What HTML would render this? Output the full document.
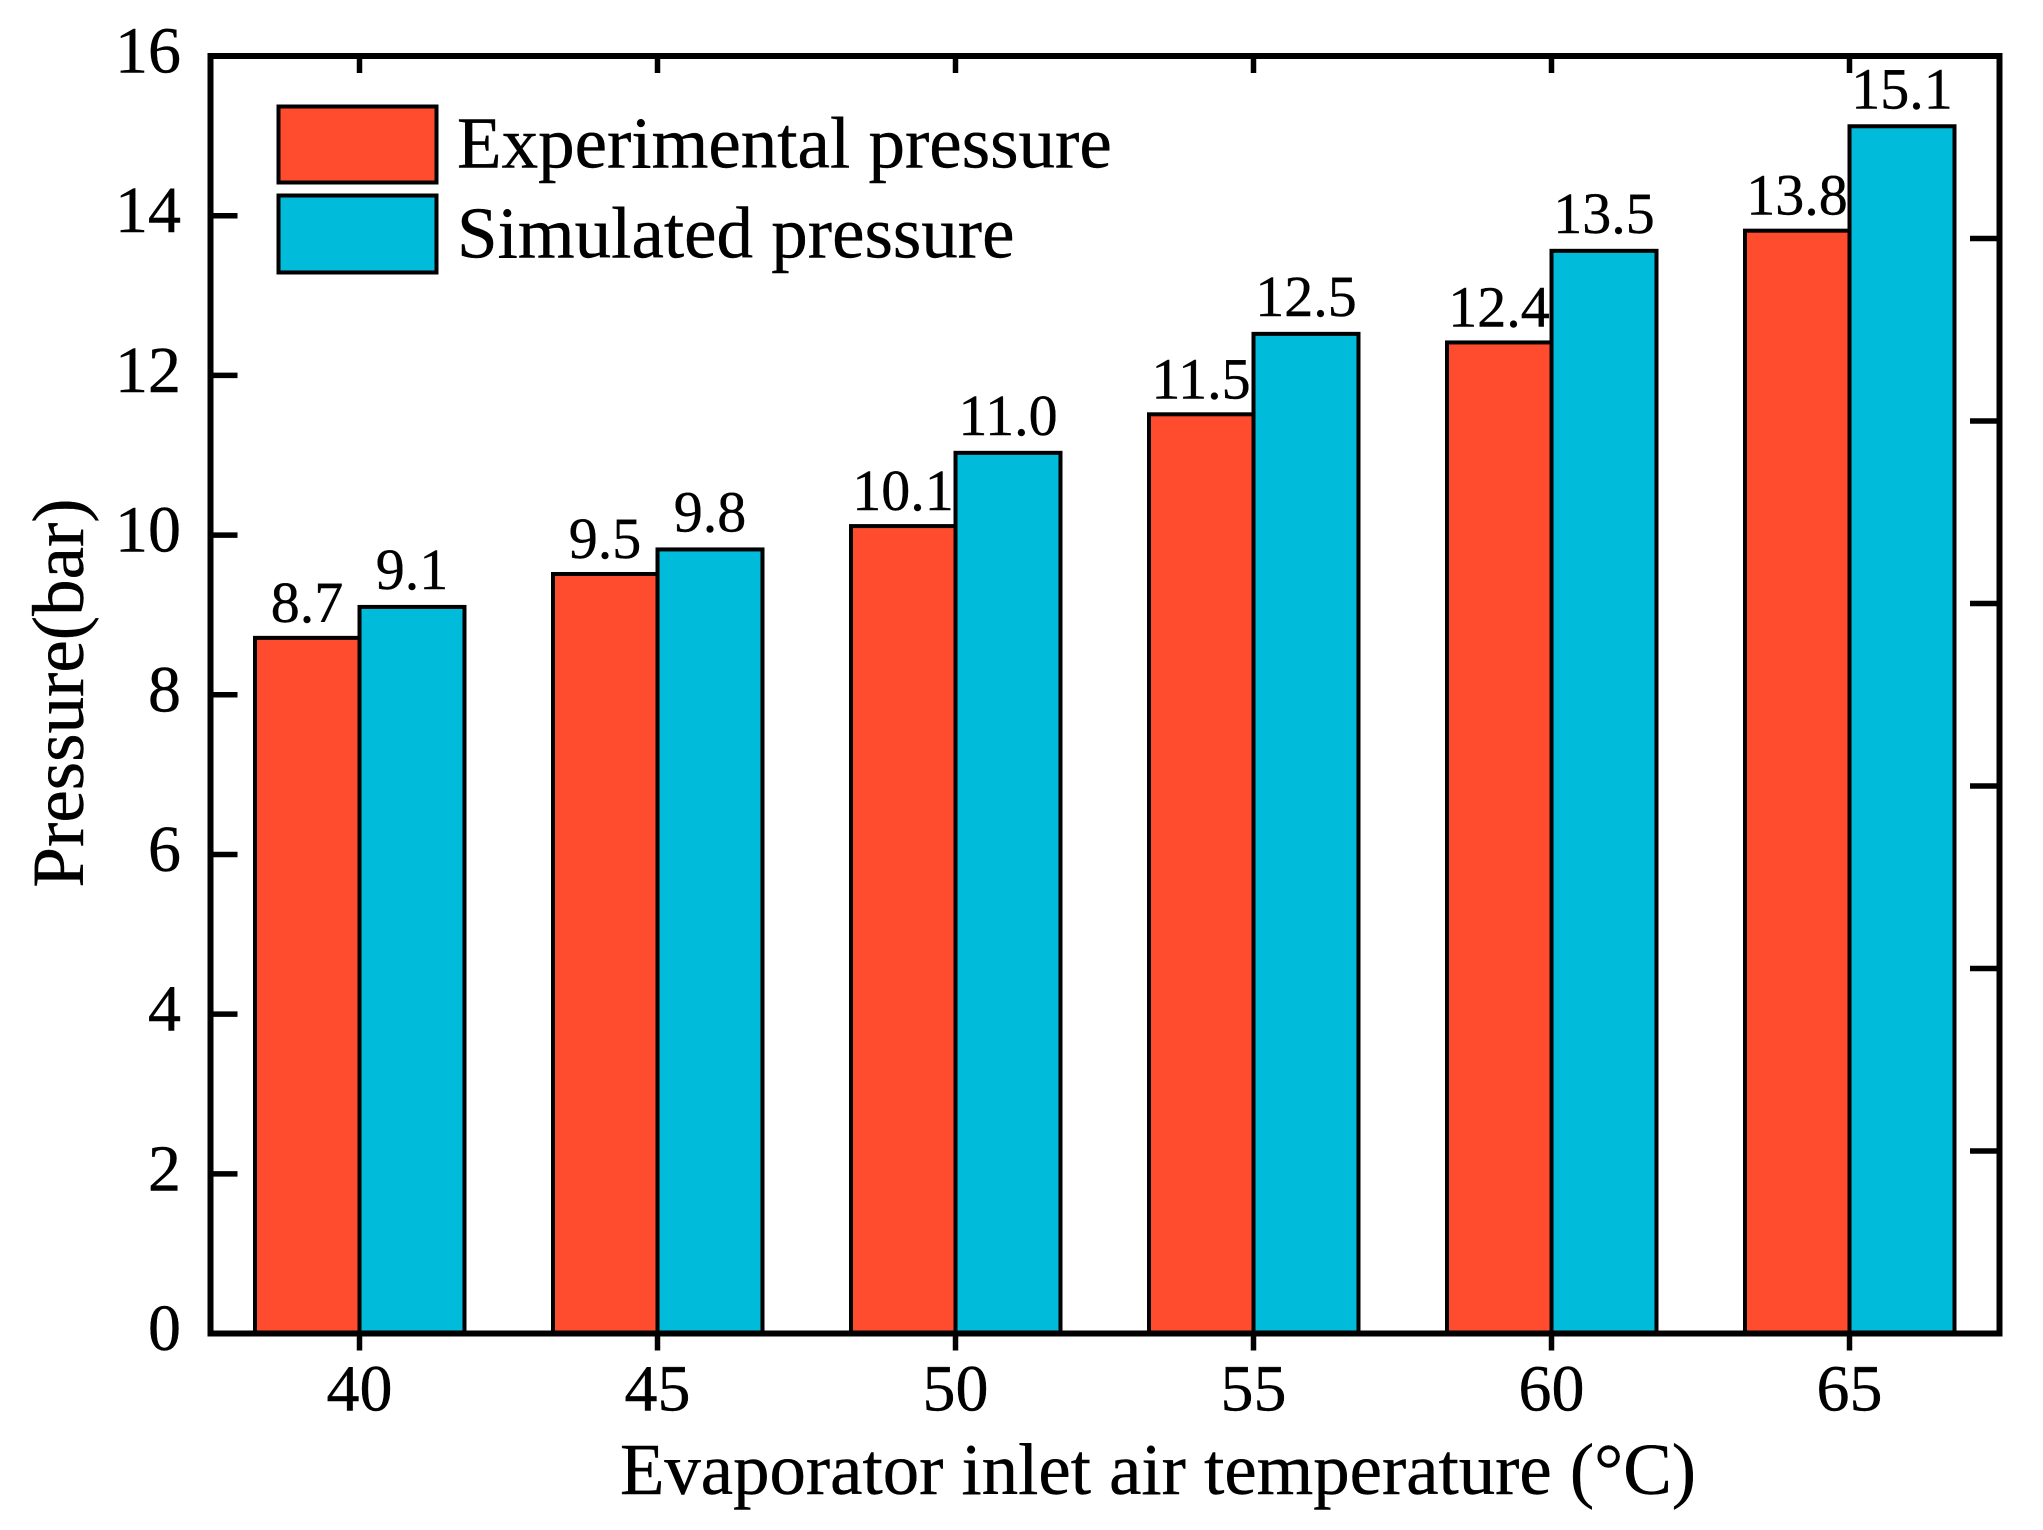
<!DOCTYPE html>
<html lang="en">
<head>
<meta charset="utf-8">
<title>Pressure vs evaporator inlet air temperature</title>
<style>
html,body{margin:0;padding:0;background:#fff;}
svg{display:block;}
text{font-family:"Liberation Serif",serif;fill:#000;stroke:#000;stroke-width:0.4px;}
</style>
</head>
<body>
<svg id="chart" xmlns="http://www.w3.org/2000/svg" width="2043" height="1530" viewBox="0 0 2043 1530">
  <rect x="0" y="0" width="2043" height="1530" fill="#fff"/>
  <g id="bars"></g>
  <rect x="210.5" y="56" width="1789" height="1277.5" fill="none" stroke="#000" stroke-width="6"/>
  <g id="ticks"></g>
  <g id="labels"></g>
  <g id="tick-labels"></g>
  <g>
    <rect x="278.5" y="106.5" width="158" height="76" fill="#FF4B2E" stroke="#000" stroke-width="4"/>
    <text x="457" y="167.5" font-size="73">Experimental pressure</text>
    <rect x="278.5" y="195.5" width="158" height="77" fill="#00BBD9" stroke="#000" stroke-width="4"/>
    <text x="457" y="257.5" font-size="73">Simulated pressure</text>
  </g>
  <text x="1158" y="1494" font-size="72.8" text-anchor="middle">Evaporator inlet air temperature (°C)</text>
  <text transform="translate(83,693) rotate(-90)" font-size="73" text-anchor="middle">Pressure(bar)</text>
</svg>
<script>
const categories = ["40", "45", "50", "55", "60", "65"];
const experimentalPressure = [8.7, 9.5, 10.1, 11.5, 12.4, 13.8];
const simulatedPressure = [9.1, 9.82, 11.03, 12.52, 13.56, 15.12];
const experimentalLabels = ["8.7", "9.5", "10.1", "11.5", "12.4", "13.8"];
const simulatedLabels = ["9.1", "9.8", "11.0", "12.5", "13.5", "15.1"];
const yTickLabels = ["0", "2", "4", "6", "8", "10", "12", "14", "16"];
const rightAxisTicks = [1, 2, 3, 4, 5, 6];

const NS = "http://www.w3.org/2000/svg";
const plotBottom = 1333.5, plotTop = 56, plotLeft = 210.5, plotRight = 1999.5;
const yScale = v => plotBottom - v * (plotBottom - plotTop) / 16;
const rightScale = v => plotBottom - v * (plotBottom - plotTop) / 7;
const xScale = i => 359.5 + i * 298;
const barWidth = 105;

function make(tag, parentId, props) {
  const el = document.createElementNS(NS, tag);
  for (const k in props) el.setAttribute(k, props[k]);
  document.getElementById(parentId).appendChild(el);
  return el;
}

categories.forEach((cat, i) => {
  const c = xScale(i);

  const redBar = make("rect", "bars", {x: c - barWidth + 0.5, y: yScale(experimentalPressure[i]) - 1, width: barWidth - 0.5, height: plotBottom - yScale(experimentalPressure[i]) + 1, fill: "#FF4B2E", stroke: "#000", "stroke-width": 4});
  
  

  const blueBar = make("rect", "bars", {x: c, y: yScale(simulatedPressure[i]), width: barWidth, height: plotBottom - yScale(simulatedPressure[i]), fill: "#00BBD9", stroke: "#000", "stroke-width": 4});
  
  

  const redLabel = make("text", "labels", {x: c - barWidth / 2, y: yScale(experimentalPressure[i]) - 17, "font-size": 58, "text-anchor": "middle"});
  redLabel.textContent = experimentalLabels[i];
  
  

  const blueLabel = make("text", "labels", {x: c + barWidth / 2, y: yScale(simulatedPressure[i]) - 18, "font-size": 58, "text-anchor": "middle"});
  blueLabel.textContent = simulatedLabels[i];
  
  

  const bottomTick = make("line", "ticks", {x1: c, x2: c, y1: plotBottom, y2: plotBottom + 17, stroke: "#000", "stroke-width": 5.5});
  
  

  const topTick = make("line", "ticks", {x1: c, x2: c, y1: plotTop, y2: plotTop + 17, stroke: "#000", "stroke-width": 5.5});
  
  

  const xLabel = make("text", "tick-labels", {x: c, y: 1410.5, "font-size": 66, "text-anchor": "middle"});
  xLabel.textContent = cat;
  
  
});

yTickLabels.forEach(label => {
  const v = Number(label);
  const y = yScale(v);

  if (v > 0 && v < 16) {
    const leftTick = make("line", "ticks", {x1: plotLeft, x2: 237.5, y1: y, y2: y, stroke: "#000", "stroke-width": 5.5});
    
    
  }

  const yLabel = make("text", "tick-labels", {x: 181, y: y + 16.5, "font-size": 66, "text-anchor": "end"});
  yLabel.textContent = label;
  
  
});

rightAxisTicks.forEach(v => {
  const rightTick = make("line", "ticks", {x1: plotRight, x2: 1970, y1: rightScale(v), y2: rightScale(v), stroke: "#000", "stroke-width": 5.5});
  
  
});
</script>
</body>
</html>
